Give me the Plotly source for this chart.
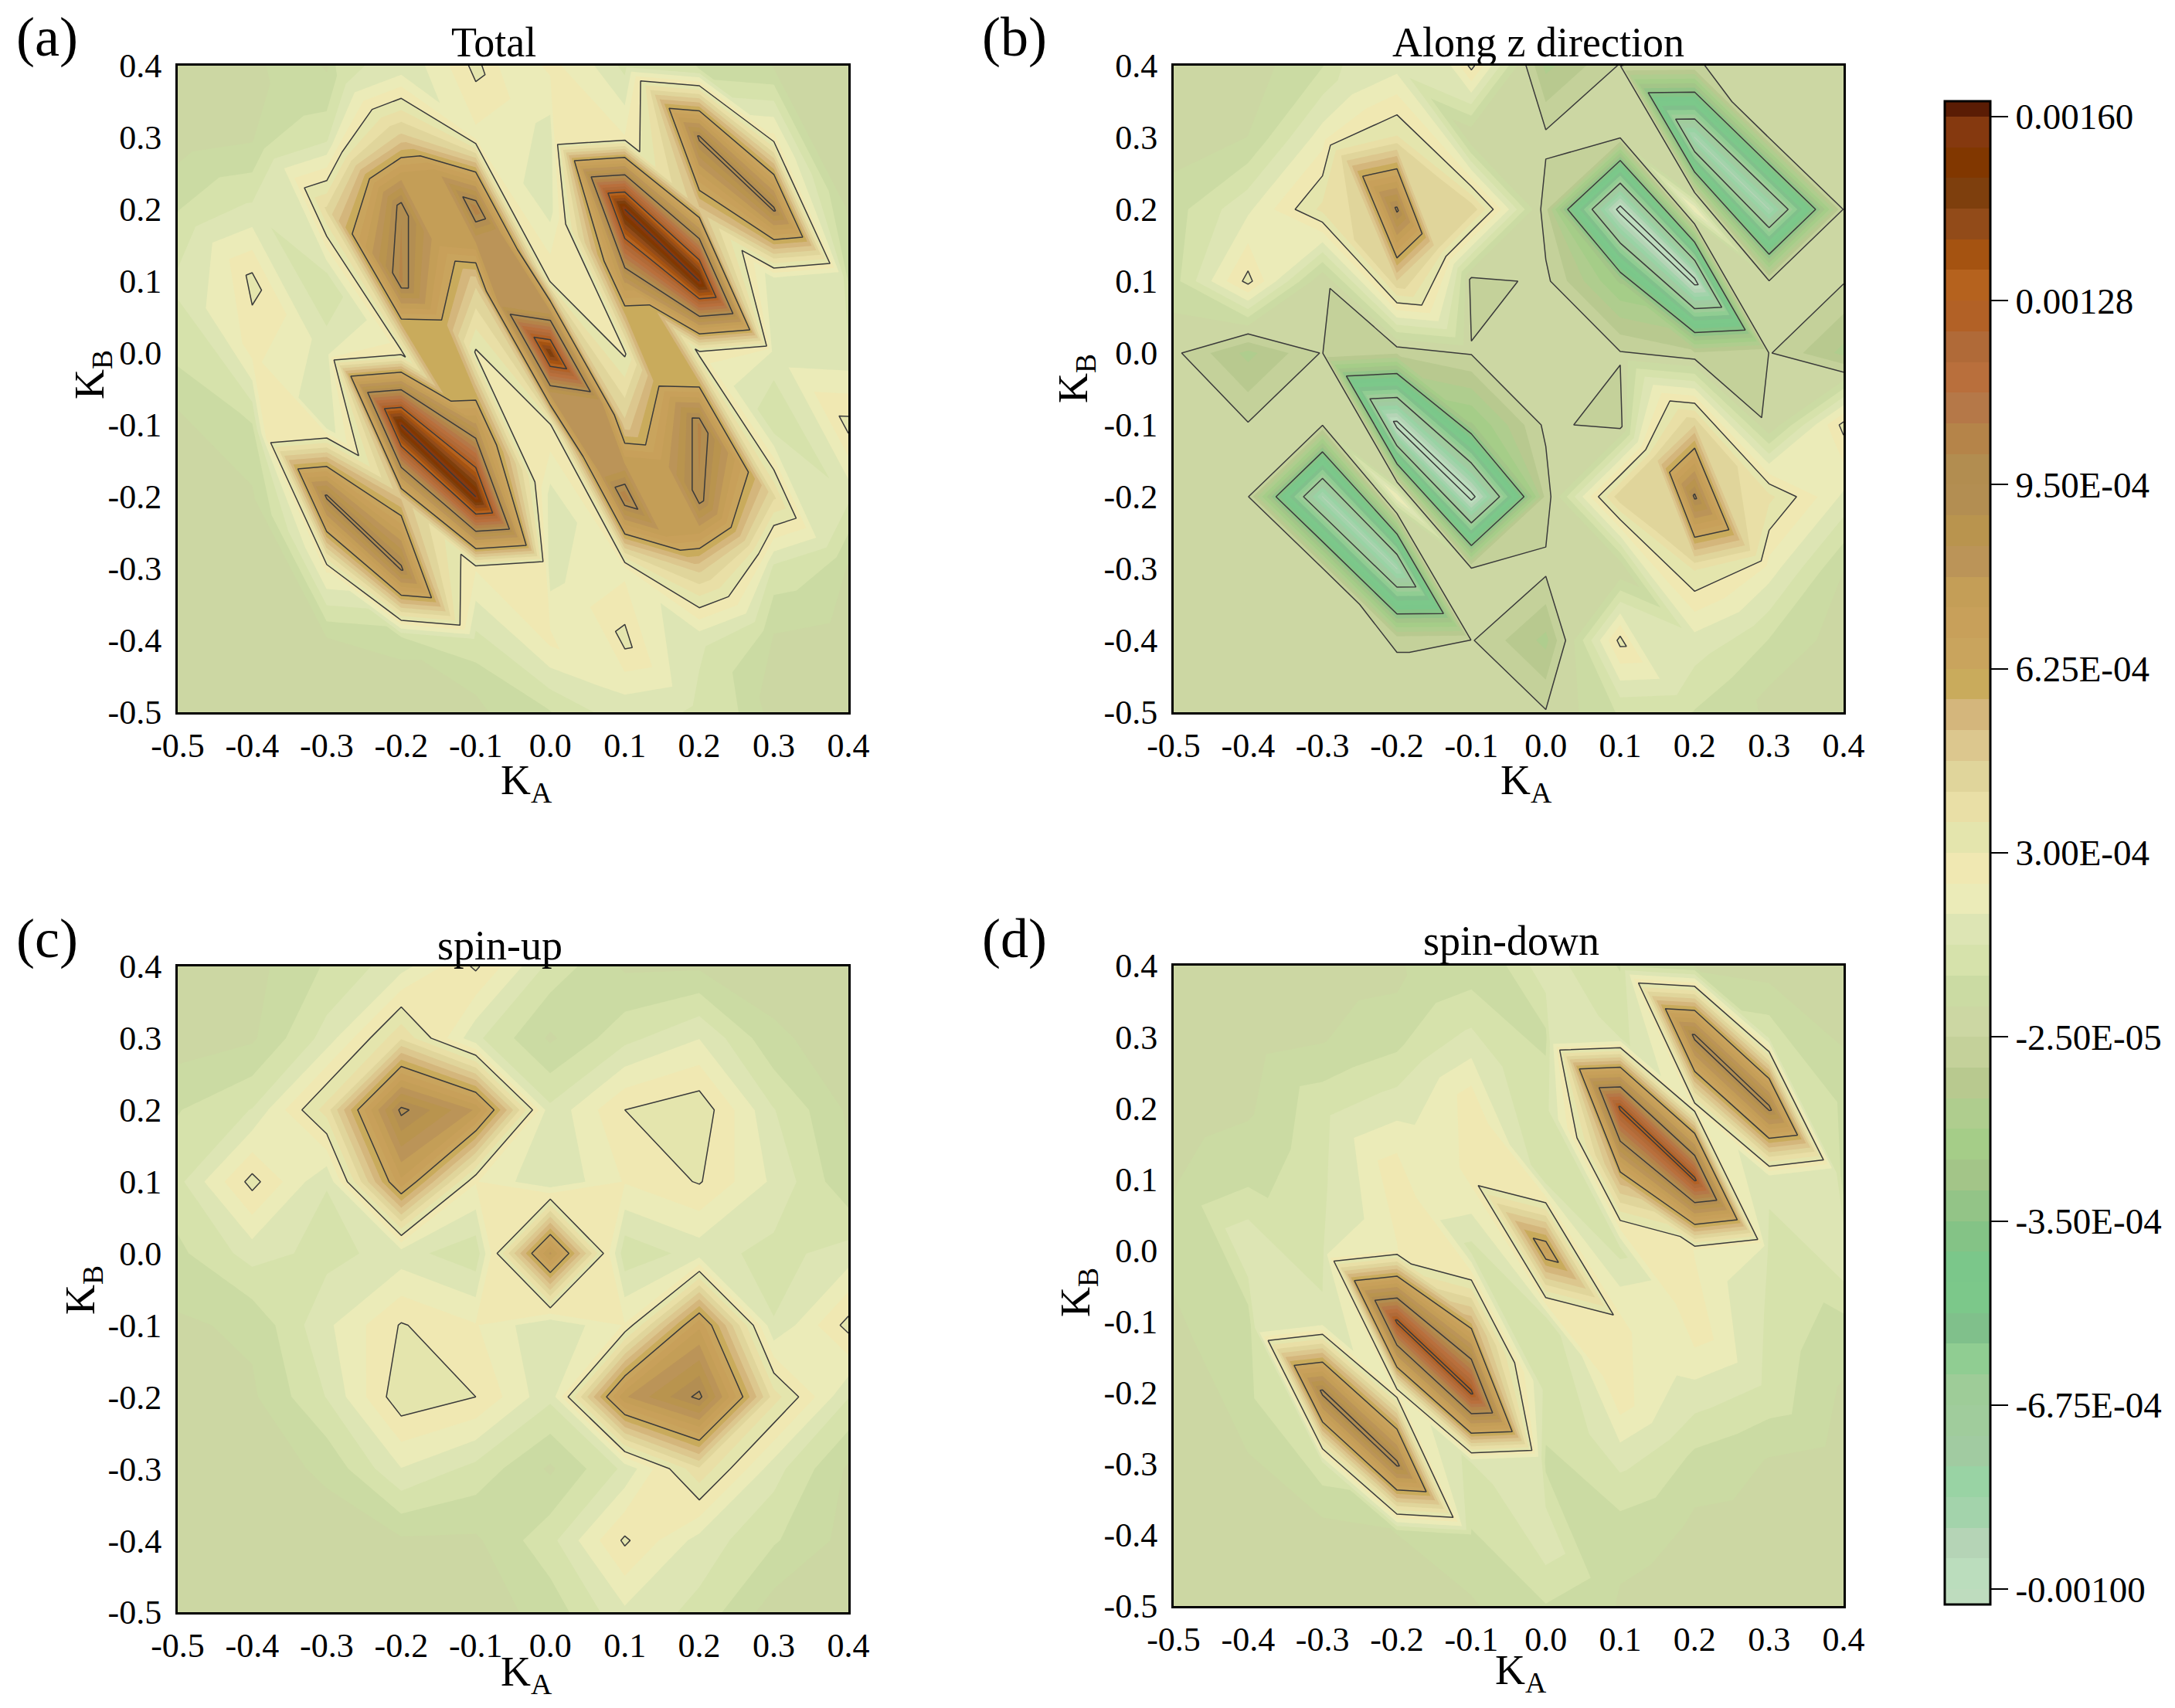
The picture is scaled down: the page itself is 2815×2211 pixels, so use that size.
import plotly.graph_objects as go

W, H = 2815, 2211
PAGE = 8  # the page keeps its default body margin

k_a = [-0.5, -0.4, -0.3, -0.2, -0.1, 0.0, 0.1, 0.2, 0.3, 0.4]
k_b = [0.4, 0.3, 0.2, 0.1, 0.0, -0.1, -0.2, -0.3, -0.4, -0.5]
tick_vals = [-0.5, -0.4, -0.3, -0.2, -0.1, 0.0, 0.1, 0.2, 0.3, 0.4]
tick_text = ["-0.5", "-0.4", "-0.3", "-0.2", "-0.1", "0.0", "0.1", "0.2", "0.3", "0.4"]

# values in units of 1e-4, rows run from KB=0.4 down to KB=-0.5
total_z = [
    [0, 0, 0.2, 1.5, 3.2, 2.6, 1.2, 0.4, 0.2, 0.1],
    [0, 0.2, 1.2, 4.8, 2.3, 1.6, 2.5, 9.7, 2.6, 0.2],
    [0.8, 1.5, 4.2, 10, 10.5, 1.7, 16, 5, 9.7, 0.2],
    [1.5, 3.2, 1, 10.2, 4.8, 2.9, 8, 16, 1.5, 0.8],
    [1, 2.6, 1.6, 2.7, 2.9, 15, 2.9, 2.7, 1.6, 1.5],
    [0.1, 0.8, 1.5, 16, 8, 2.9, 4.8, 10.2, 1, 3.2],
    [0, 0.2, 9.7, 5, 16, 1.7, 10.5, 10, 4.2, 1.5],
    [0, 0.2, 2.6, 9.7, 2.5, 1.6, 2.3, 4.8, 1.2, 0.2],
    [0, 0.1, 0.2, 0.4, 1.2, 2.6, 3.2, 1.5, 0.2, 0],
    [0, 0, 0, 0, 0, 0.8, 1.5, 1.2, 0, 0],
]
along_z = [
    [0.1, 0, 0.8, 1.7, 3.2, -1.5, -0.2, -0.3, 0.1, 0.1],
    [0, 0.3, 2.2, 3.6, -0.2, -0.1, -0.2, -9, -0.2, 0.1],
    [0.6, 1.8, 3.7, 9.7, 4.5, -0.6, -10.5, 2.4, -9, -0.2],
    [0.6, 3.2, -0.2, 4.6, -0.5, -0.1, -2.5, -10.5, -0.2, -0.2],
    [-0.1, -1.5, -0.2, -0.7, -0.2, 0, -0.2, -0.7, -0.2, -1.5],
    [0, -0.2, -0.2, -10.5, -2.5, -0.1, -0.5, 4.6, -0.2, 3.2],
    [0, -0.2, -9, 2.4, -10.5, -0.6, 4.5, 9.7, 3.7, 1.8],
    [0, 0.1, -0.2, -9, -0.2, -0.1, -0.2, 3.6, 2.2, 0.3],
    [0, 0.1, 0.1, -0.3, -0.2, -1.5, 3.2, 1.7, 0.8, 0],
    [0, 0, 0, 0, 0, -0.2, 0.9, 0.8, 0, 0],
]
spin_up_z = [
    [0, 0.1, 0.9, 1.7, 3.1, 1.2, 0.2, 0.2, 0, 0],
    [0, 0.2, 1.6, 4, 1.5, 0.2, 1.2, 1.9, 0.4, 0],
    [0.8, 1.4, 3.8, 9.7, 7.8, 1.5, 3, 3.4, 1.4, 0.2],
    [1.2, 3.2, 1.4, 7.2, 2.5, 1.4, 2.5, 3.05, 1.8, 0.4],
    [0.7, 1.6, 1.2, 1.6, 1.0, 8, 1.0, 1.6, 1.2, 1.6],
    [0.2, 0.4, 1.8, 3.05, 2.5, 1.4, 2.5, 7.2, 1.4, 3.2],
    [0, 0.2, 1.4, 3.4, 3, 1.5, 7.8, 9.7, 3.8, 1.4],
    [0, 0, 0.4, 1.9, 1.2, 0.2, 1.5, 4, 1.6, 0.2],
    [0, 0, 0, 0.2, 0.2, 1.2, 3.1, 1.7, 0.9, 0.1],
    [0, 0, 0, 0, 0, 0.5, 1.8, 1.2, 0, 0],
]
spin_down_z = [
    [0, 0, 0, 0.1, 0.5, 1.8, 0.8, 0.2, 0, 0],
    [0, 0, 0.2, 0.6, 1.5, 0.7, 1.2, 9.8, 1.2, 0.2],
    [0, 0.2, 1.2, 1.7, 2.9, 1.2, 13, 2.5, 9.8, 0.8],
    [0.2, 0.7, 1.3, 2.9, 2.6, 1.0, 5.5, 13, 1.5, 0.5],
    [0.6, 1.9, 1.2, 2.4, 1.2, 7, 1.2, 2.4, 1.2, 1.9],
    [0.1, 0.5, 1.5, 13, 5.5, 1.0, 2.6, 2.9, 1.3, 0.7],
    [0, 0.8, 9.8, 2.5, 13, 1.2, 2.9, 1.7, 1.2, 0.2],
    [0, 0.2, 1.2, 9.8, 1.2, 0.7, 1.5, 0.6, 0.2, 0],
    [0, 0, 0, 0.2, 0.8, 1.8, 0.5, 0.1, 0, 0],
    [0, 0, 0, 0, 0.2, 0.8, 0.2, 0, 0, 0],
]

panel_z = [total_z, along_z, spin_up_z, spin_down_z]
panel_letters = ["(a)", "(b)", "(c)", "(d)"]
panel_titles = ["Total", "Along z direction", "spin-up", "spin-down"]

cbar_vals = [0.0016, 0.001275, 9.5e-4, 6.25e-4, 3e-4, -2.5e-5, -3.5e-4, -6.75e-4, -0.001]
cbar_text = ["0.00160", "0.00128", "9.50E-04", "6.25E-04", "3.00E-04",
             "-2.50E-05", "-3.50E-04", "-6.75E-04", "-0.00100"]

# colorbar bands, top to bottom
band_colors = [
    "#5a1c04", "#85390f", "#813700", "#7e3f0d", "#924b19", "#a55311", "#b5621e",
    "#b26126", "#b06a38", "#b96f3c", "#b57848", "#b58449", "#b28d50", "#b38e52",
    "#b9944e", "#bb9458", "#c49e57", "#c8a05a", "#c9a45d", "#c9ab5c", "#d4b67c",
    "#dcc78e", "#e0d59b", "#e9dfa6", "#e4e5ad", "#f0e8b2", "#ebebb8", "#dde5b4",
    "#d6e2ab", "#cbdba3", "#ccd7a3", "#c4d19a", "#b8c98f", "#afcd8e", "#a5cd88",
    "#a3c588", "#93c487", "#84c386", "#7bc78a", "#7cc88a", "#80c08b", "#90cd92",
    "#9ecc98", "#a0cc9c", "#a1cba1", "#99d3a4", "#a3d3ab", "#b5d4b6", "#bbddbd",
    "#bedcbe",
]
bands_up = band_colors[::-1]
colorscale = [[i / (len(bands_up) - 1), c] for i, c in enumerate(bands_up)]

SERIF = "Liberation Serif"
line_step = 3.25e-4
fill_step = line_step / 6

# plot boxes in pixels of the reference: left, right, top, bottom
boxes = [(230, 1098, 85, 922), (1519, 2386, 85, 922),
         (230, 1098, 1251, 2087), (1519, 2386, 1250, 2079)]
letter_pos = [(61, 48), (1313, 48), (61, 1215), (1313, 1215)]
title_pos = [(639, 55), (1991, 55), (647, 1224), (1956, 1218)]
xlabel_pos = [(681, 1013), (1975, 1013), (681, 2167), (1968, 2165)]
ylabel_pos = [(119, 485), (1392, 490), (107, 1670), (1395, 1673)]

# carpet rows slide one step between columns that carry a KA=-KB ridge,
# so the ridge runs along cell edges and does not break up into separate peaks
slide_all = [0, 1, 2, 3, 4, 5, 6, 7, 8, 9]
slide_ridges = [0, 0, 0, 1, 2, 2, 2, 3, 4, 4]
slide_none = [0] * 10
panel_shift = [slide_all, slide_ridges, slide_none, slide_all]


def px(x):
    return (x - PAGE) / (W - 2 * PAGE)


def py(y):
    return 1 - (y - PAGE) / (H - 2 * PAGE)


fig = go.Figure()


def note(text, pos, size, angle=0):
    fig.add_annotation(text=text, x=px(pos[0]), y=py(pos[1]), xref="paper", yref="paper",
                       showarrow=False, xanchor="center", yanchor="middle", textangle=angle,
                       font=dict(family=SERIF, size=size, color="black"))


hidden = dict(showgrid=False, showline=False, startline=False, endline=False, smoothing=0,
              showticklabels="none", minorgridcount=0, tickmode="array", tickvals=[])

n = len(k_a)
ys_up = k_b[::-1]
step = ys_up[1] - ys_up[0]

for i, z in enumerate(panel_z):
    suffix = "" if i == 0 else str(i + 1)
    carpet_id = "c" + str(i)
    shift = panel_shift[i]
    rows = n + max(shift)

    car_a, car_b, car_x, car_y, car_z = [], [], [], [], []
    for v in range(rows):
        for u in range(n):
            car_a.append(u)
            car_b.append(v)
            q = v - shift[u]
            car_x.append(k_a[u])
            car_y.append(ys_up[0] + step * q)
            car_z.append(z[n - 1 - q][u] * 1e-4 if 0 <= q < n else None)

    fig.add_trace(go.Carpet(carpet=carpet_id, a=car_a, b=car_b, x=car_x, y=car_y,
                            aaxis=hidden, baxis=hidden, xaxis="x" + suffix, yaxis="y" + suffix))
    fig.add_trace(go.Contourcarpet(
        carpet=carpet_id, a=car_a, b=car_b, z=car_z,
        autocontour=False, colorscale=colorscale, line=dict(width=0, smoothing=0),
        contours=dict(start=-0.001, end=0.0016001, size=fill_step, coloring="fill", showlines=False),
        showscale=i == 3,
        colorbar=dict(
            x=px(2517), xanchor="left", xpad=0, y=py(131), yanchor="top", ypad=0,
            thickness=59, thicknessmode="pixels", len=1946, lenmode="pixels",
            outlinewidth=3, outlinecolor="black",
            tickmode="array", tickvals=cbar_vals, ticktext=cbar_text,
            ticks="outside", ticklen=22, tickwidth=2, tickcolor="black",
            tickfont=dict(family=SERIF, size=47, color="black"),
        ),
    ))
    fig.add_trace(go.Contourcarpet(
        carpet=carpet_id, a=car_a, b=car_b, z=car_z,
        autocontour=False, showscale=False, line=dict(width=1.5, color="#3a3a3a", smoothing=0),
        contours=dict(start=-0.001, end=0.0016001, size=line_step, coloring="none"),
    ))

    left, right, top, bottom = boxes[i]
    axis = dict(range=[-0.5, 0.4], tickmode="array", tickvals=tick_vals, ticktext=tick_text,
                ticks="", showgrid=False, zeroline=False, showline=True, mirror=True,
                linecolor="black", linewidth=3,
                tickfont=dict(family=SERIF, size=44, color="black"))
    fig.update_layout({
        "xaxis" + suffix: dict(axis, domain=[px(left), px(right)], anchor="y" + suffix, ticklabelstandoff=2),
        "yaxis" + suffix: dict(axis, domain=[py(bottom), py(top)], anchor="x" + suffix, ticklabelstandoff=9),
    })

    note(panel_letters[i], letter_pos[i], 72)
    note(panel_titles[i], title_pos[i], 54)
    note("K<sub>A</sub>", xlabel_pos[i], 54)
    note("K<sub>B</sub>", ylabel_pos[i], 54, angle=-90)

fig.update_layout(width=W - 2 * PAGE, height=H - 2 * PAGE, autosize=False, showlegend=False,
                  margin=dict(l=0, r=0, t=0, b=0, autoexpand=False),
                  paper_bgcolor="white", plot_bgcolor="white")

fig.write_html("out.html")
